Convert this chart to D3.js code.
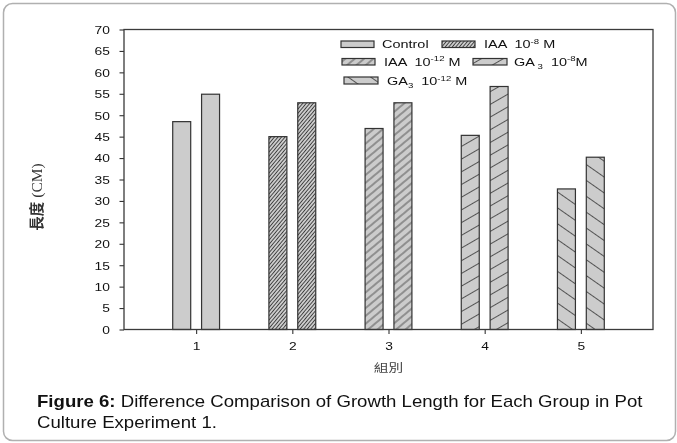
<!DOCTYPE html>
<html><head><meta charset="utf-8">
<script src="https://cdn.jsdelivr.net/npm/d3@7"></script>
<style>
html,body{margin:0;padding:0;background:#fff;}
svg{display:block;filter:grayscale(1);}
</style></head>
<body>
<script>
// ---- data ----
const groups = [1, 2, 3, 4, 5];
const seriesNames = ["Control", "IAA 10-8 M", "IAA 10-12 M", "GA3 10-8 M", "GA3 10-12 M"];
const firstValues = [48.5, 45.0, 46.9, 45.3, 32.8];
const secondValues = [54.9, 52.9, 52.9, 56.7, 40.2];
const yTicks = [0, 5, 10, 15, 20, 25, 30, 35, 40, 45, 50, 55, 60, 65, 70];
const xTickLabels = ["1", "2", "3", "4", "5"];
// legend label parts: [text, kind] kind: n normal, sup, sub
const legendParts = [
  [["Control", "n"]],
  [["IAA  10", "n"], ["-8", "sup"], [" M", "n"]],
  [["IAA  10", "n"], ["-12", "sup"], [" M", "n"]],
  [["GA", "n"], [" 3", "sub"], ["  10", "n"], ["-8", "sup"], ["M", "n"]],
  [["GA", "n"], ["3", "sub"], ["  10", "n"], ["-12", "sup"], [" M", "n"]]
];
const yTitleCJK = "長度";
const yTitleUnit = " (CM)";
const xTitle = "組別";
const captionBold = "Figure 6:";
const captionLine1 = " Difference Comparison of Growth Length for Each Group in Pot";
const captionLine2 = "Culture Experiment 1.";

// ---- layout / style ----
const W = 677, H = 443;
const L = 124, R = 653, T = 29.5, B = 329.5;
const SX = 1.28; // horizontal text stretch of original figure
const SANS = "'Liberation Sans', Arial, sans-serif";
const fillGray = "#cccccc", ink = "#333333";
// pattern specs per series: angle (deg), perpendicular spacing, stroke width
const patSpec = [
  null,
  {a: -50, d: 2.7, w: 0.9},
  {a: -40, d: 6.0, w: 0.8},
  {a: -30, d: 11, w: 0.8},
  {a: 35, d: 13, w: 0.8}
];
// legend layout: box x, box y, box w, box h, text x, baseline
const legendLayout = [
  [341, 41, 33, 6.5, 382, 48.3],
  [442, 41, 33, 6.5, 484, 48.3],
  [342, 58.5, 33, 6.5, 384, 65.5],
  [473, 58.5, 34, 6.5, 514, 65.5],
  [344, 77, 34, 7, 387, 85]
];

const svg = d3.select("body").append("svg").attr("width", W).attr("height", H);

// outer rounded border
svg.append("rect").attr("x", 3.5).attr("y", 3.5).attr("width", 672).attr("height", 437)
  .attr("rx", 9).attr("fill", "none").attr("stroke", "#b0b0b0").attr("stroke-width", 1.5);

const defs = svg.append("defs");
const fills = patSpec.map((p, i) => {
  if (!p) return fillGray;
  const id = "pat" + i;
  const pat = defs.append("pattern").attr("id", id).attr("patternUnits", "userSpaceOnUse")
    .attr("width", 20).attr("height", p.d).attr("patternTransform", `rotate(${p.a})`);
  pat.append("rect").attr("width", 20).attr("height", p.d).attr("fill", fillGray);
  pat.append("line").attr("x1", 0).attr("x2", 20).attr("y1", p.d / 2).attr("y2", p.d / 2)
    .attr("stroke", ink).attr("stroke-width", p.w);
  return `url(#${id})`;
});

const x = d3.scaleLinear().domain([0.25, 5.75]).range([L, R]);
const y = d3.scaleLinear().domain([0, 70]).range([B, T]);

// bars
const barW = 0.187, off = 0.15;
const bars = [];
groups.forEach((g, i) => {
  bars.push({g, v: firstValues[i], s: i, o: -off});
  bars.push({g, v: secondValues[i], s: i, o: off});
});
svg.append("g").selectAll("rect").data(bars).join("rect")
  .attr("x", d => x(d.g + d.o - barW / 2))
  .attr("width", d => x(d.g + d.o + barW / 2) - x(d.g + d.o - barW / 2))
  .attr("y", d => y(d.v))
  .attr("height", d => y(0) - y(d.v))
  .attr("fill", d => fills[d.s])
  .attr("stroke", ink).attr("stroke-width", 1.2);

// axes
const ya = svg.append("g").attr("transform", `translate(${L},0)`)
  .call(d3.axisLeft(y).tickValues(yTicks).tickSize(4.5).tickSizeOuter(0));
ya.select(".domain").remove();
ya.selectAll("line").attr("stroke", ink).attr("stroke-width", 1.1);
ya.selectAll("text").attr("x", 0).attr("dy", "0.36em")
  .attr("transform", `translate(-14,0) scale(${SX},1)`)
  .style("font-size", "10.8px").style("fill", "#111").style("font-family", SANS);

const xa = svg.append("g").attr("transform", `translate(0,${B})`)
  .call(d3.axisBottom(x).tickValues(groups).tickFormat((d, i) => xTickLabels[i]).tickSize(4.5).tickSizeOuter(0));
xa.select(".domain").remove();
xa.selectAll("line").attr("stroke", ink).attr("stroke-width", 1.1);
xa.selectAll("text").attr("y", 0).attr("dy", 0)
  .attr("transform", `translate(0,20.5) scale(${SX},1)`)
  .style("font-size", "10.8px").style("fill", "#111").style("font-family", SANS);

// frame
svg.append("rect").attr("x", L).attr("y", T).attr("width", R - L).attr("height", B - T)
  .attr("fill", "none").attr("stroke", "#3a3a3a").attr("stroke-width", 1.3);

// legend
const lg = svg.append("g");
seriesNames.forEach((name, i) => {
  const [bx, by, bw, bh, tx, tb] = legendLayout[i];
  lg.append("rect").attr("x", bx).attr("y", by).attr("width", bw).attr("height", bh)
    .attr("fill", fills[i]).attr("stroke", ink).attr("stroke-width", 1.2);
  const t = lg.append("text").attr("transform", `translate(${tx},${tb}) scale(${SX},1)`)
    .style("font-size", "11.3px").style("fill", "#111").style("font-family", SANS).style("white-space", "pre");
  let shift = 0;
  legendParts[i].forEach(([s, k]) => {
    let target = k === "sup" ? -4.5 : k === "sub" ? 3 : 0;
    t.append("tspan").attr("dy", target - shift).style("font-size", k === "n" ? "11.3px" : "7.5px").text(s);
    shift = target;
  });
});

// y title
const yt = svg.append("text").attr("transform", "translate(42,197) rotate(-90)")
  .attr("text-anchor", "middle").style("font-size", "15.5px").style("fill", "#333").style("white-space", "pre");
yt.append("tspan").style("font-family", "'Noto Sans CJK TC', sans-serif").style("font-weight", "bold").style("font-size", "14.5px").text(yTitleCJK);
yt.append("tspan").style("font-family", "'Liberation Serif', 'Times New Roman', serif").text(yTitleUnit);

// x title
svg.append("text").attr("transform", `translate(${x(3)},372) scale(${SX},1)`)
  .attr("text-anchor", "middle").style("font-size", "11.5px").style("fill", "#444")
  .style("font-family", "'Noto Sans CJK TC', sans-serif").text(xTitle);

// caption
const CS = 1.095;
const cap = svg.append("text").attr("transform", `translate(37,407) scale(${CS},1)`)
  .style("font-size", "17px").style("fill", "#111").style("font-family", SANS).style("white-space", "pre");
cap.append("tspan").style("font-weight", "bold").text(captionBold);
cap.append("tspan").text(captionLine1);
svg.append("text").attr("transform", `translate(37,428) scale(${CS},1)`)
  .style("font-size", "17px").style("fill", "#111").style("font-family", SANS).text(captionLine2);
</script>
</body></html>
